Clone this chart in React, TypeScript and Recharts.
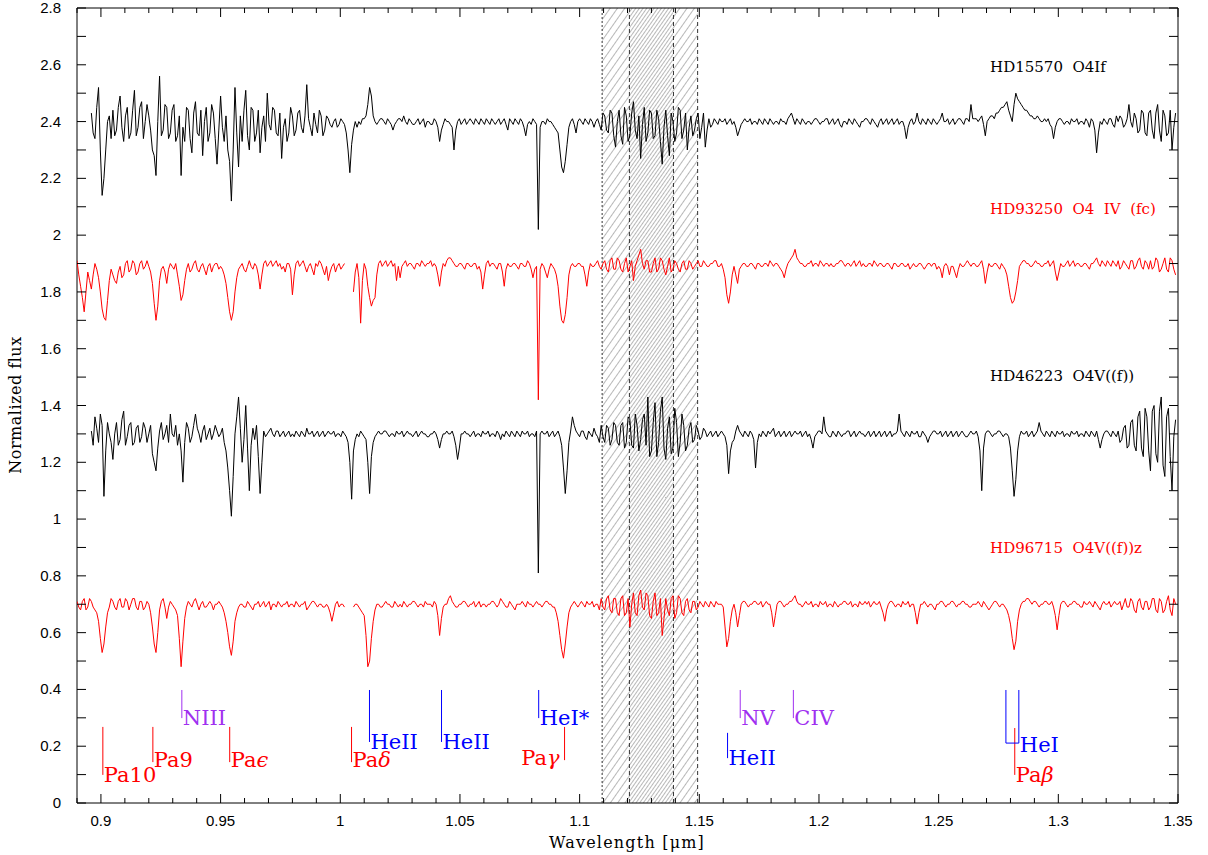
import { LineChart, Line, XAxis, YAxis, ReferenceArea, ReferenceLine, ReferenceDot } from 'recharts';

// spectra are sampled on a common wavelength grid (micron); the *Mid arrays
// hold the samples that fall half a step after each main sample
const waveStart = 0.89;
const waveStep = 0.0015;

const hd15570 = [
  null, null, null, null, 2.43, 2.34, 2.52, 2.14, 2.30, 2.42,
  2.44, 2.37, 2.49, 2.33, 2.45, 2.36, 2.51, 2.38, 2.47, 2.40,
  2.42, 2.30, 2.21, 2.56, 2.37, 2.45, 2.36, 2.46, 2.35, 2.21,
  2.33, 2.44, 2.29, 2.47, 2.35, 2.28, 2.45, 2.36, 2.43, 2.25,
  2.49, 2.33, 2.30, 2.12, 2.52, 2.24, 2.33, 2.51, 2.30, 2.44,
  2.36, 2.29, 2.42, 2.50, 2.37, 2.44, 2.35, 2.27, 2.41, 2.36,
  2.42, 2.37, 2.44, 2.36, 2.53, 2.38, 2.43, 2.36, 2.42, 2.37,
  2.41, 2.38, 2.41, 2.39, 2.40, 2.36, 2.22, 2.37, 2.38, 2.39,
  2.41, 2.46, 2.49, 2.40, 2.40, 2.41, 2.39, 2.40, 2.37, 2.40,
  2.41, 2.42, 2.39, 2.40, 2.39, 2.41, 2.40, 2.38, 2.40, 2.39,
  2.40, 2.33, 2.39, 2.40, 2.39, 2.30, 2.40, 2.39, 2.41, 2.40,
  2.40, 2.41, 2.39, 2.40, 2.41, 2.39, 2.40, 2.40, 2.39, 2.41,
  2.37, 2.40, 2.41, 2.39, 2.40, 2.35, 2.40, 2.41, 2.39, 2.38,
  2.40, 2.41, 2.40, 2.38, 2.36, 2.24, 2.26, 2.38, 2.41, 2.36,
  2.41, 2.39, 2.40, 2.41, 2.38, 2.41, 2.37, 2.42, 2.36, 2.43,
  2.31, 2.44, 2.32, 2.42, 2.35, 2.47, 2.34, 2.27, 2.45, 2.36,
  2.43, 2.35, 2.41, 2.25, 2.44, 2.28, 2.40, 2.36, 2.44, 2.37,
  2.30, 2.42, 2.37, 2.43, 2.38, 2.31, 2.41, 2.39, 2.40, 2.41,
  2.40, 2.39, 2.41, 2.40, 2.35, 2.39, 2.41, 2.40, 2.39, 2.40,
  2.41, 2.39, 2.40, 2.41, 2.39, 2.40, 2.41, 2.40, 2.41, 2.43,
  2.39, 2.40, 2.41, 2.39, 2.40, 2.40, 2.41, 2.39, 2.40, 2.41,
  2.40, 2.39, 2.41, 2.38, 2.40, 2.41, 2.39, 2.40, 2.38, 2.40,
  2.41, 2.39, 2.40, 2.38, 2.41, 2.40, 2.39, 2.41, 2.40, 2.39,
  2.40, 2.34, 2.40, 2.39, 2.43, 2.39, 2.40, 2.41, 2.39, 2.40,
  2.40, 2.43, 2.40, 2.39, 2.41, 2.40, 2.41, 2.39, 2.41, 2.46,
  2.41, 2.40, 2.42, 2.35, 2.41, 2.42, 2.43, 2.44, 2.45, 2.47,
  2.42, 2.46, 2.48, 2.46, 2.44, 2.43, 2.42, 2.41, 2.41, 2.40,
  2.40, 2.39, 2.34, 2.40, 2.41, 2.39, 2.40, 2.41, 2.40, 2.39,
  2.40, 2.41, 2.38, 2.40, 2.29, 2.40, 2.41, 2.39, 2.41, 2.38,
  2.40, 2.41, 2.39, 2.46, 2.38, 2.41, 2.37, 2.43, 2.35, 2.44,
  2.34, 2.46, 2.33, 2.42, 2.36, 2.30, 2.43,
];
const hd15570Mid = [
  null, null, null, null, 2.36, 2.45, 2.30, 2.20, 2.40, 2.34,
  2.35, 2.45, 2.38, 2.42, 2.34, 2.44, 2.35, 2.45, 2.34, 2.46,
  2.37, 2.28, 2.40, 2.35, 2.46, 2.34, 2.44, 2.33, 2.42, 2.38,
  2.45, 2.34, 2.43, 2.36, 2.44, 2.40, 2.33, 2.46, 2.34, 2.37,
  2.38, 2.42, 2.26, 2.30, 2.36, 2.42, 2.44, 2.35, 2.45, 2.33,
  2.44, 2.38, 2.33, 2.39, 2.45, 2.36, 2.43, 2.38, 2.33, 2.45,
  2.35, 2.43, 2.38, 2.42, 2.41, 2.35, 2.39, 2.44, 2.35, 2.42,
  2.39, 2.40, 2.38, 2.41, 2.39, 2.30, 2.32, 2.40, 2.40, 2.41,
  2.42, 2.52, 2.42, 2.39, 2.41, 2.40, 2.41, 2.39, 2.39, 2.41,
  2.40, 2.40, 2.41, 2.39, 2.40, 2.39, 2.41, 2.40, 2.39, 2.41,
  2.38, 2.37, 2.41, 2.40, 2.38, 2.37, 2.41, 2.40, 2.39, 2.41,
  2.39, 2.40, 2.41, 2.39, 2.40, 2.41, 2.39, 2.41, 2.40, 2.39,
  2.41, 2.39, 2.40, 2.41, 2.38, 2.39, 2.39, 2.40, 2.02, 2.40,
  2.39, 2.40, 2.39, 2.37, 2.30, 2.22, 2.32, 2.40, 2.39, 2.40,
  2.40, 2.41, 2.39, 2.40, 2.40, 2.39, 2.43, 2.37, 2.44, 2.35,
  2.40, 2.35, 2.45, 2.33, 2.43, 2.37, 2.42, 2.39, 2.33, 2.44,
  2.34, 2.44, 2.33, 2.38, 2.35, 2.43, 2.33, 2.45, 2.34, 2.43,
  2.38, 2.35, 2.41, 2.34, 2.43, 2.37, 2.38, 2.41, 2.39, 2.40,
  2.41, 2.40, 2.39, 2.38, 2.37, 2.40, 2.40, 2.41, 2.40, 2.39,
  2.40, 2.41, 2.39, 2.40, 2.40, 2.39, 2.40, 2.39, 2.42, 2.41,
  2.41, 2.39, 2.40, 2.40, 2.39, 2.41, 2.40, 2.40, 2.41, 2.39,
  2.41, 2.40, 2.39, 2.40, 2.39, 2.40, 2.41, 2.39, 2.40, 2.41,
  2.40, 2.41, 2.39, 2.40, 2.39, 2.41, 2.40, 2.39, 2.41, 2.40,
  2.38, 2.38, 2.41, 2.40, 2.40, 2.41, 2.39, 2.40, 2.41, 2.39,
  2.41, 2.40, 2.41, 2.40, 2.39, 2.41, 2.40, 2.41, 2.40, 2.41,
  2.41, 2.41, 2.39, 2.40, 2.42, 2.41, 2.43, 2.45, 2.46, 2.44,
  2.40, 2.50, 2.47, 2.45, 2.44, 2.42, 2.41, 2.42, 2.40, 2.41,
  2.41, 2.38, 2.38, 2.41, 2.40, 2.40, 2.39, 2.40, 2.41, 2.40,
  2.39, 2.40, 2.41, 2.37, 2.36, 2.39, 2.40, 2.41, 2.39, 2.42,
  2.42, 2.38, 2.41, 2.40, 2.43, 2.36, 2.44, 2.36, 2.43, 2.37,
  2.43, 2.37, 2.44, 2.35, 2.44, 2.38, null,
];

const hd93250 = [
  1.91, 1.82, 1.73, 1.87, 1.81, 1.90, 1.85, 1.74, 1.70, 1.84,
  1.86, 1.83, 1.89, 1.86, 1.91, 1.88, 1.90, 1.87, 1.91, 1.89,
  1.89, 1.83, 1.70, 1.84, 1.89, 1.83, 1.90, 1.88, 1.86, 1.77,
  1.84, 1.90, 1.88, 1.91, 1.87, 1.90, 1.86, 1.90, 1.89, 1.90,
  1.89, 1.86, 1.78, 1.70, 1.80, 1.88, 1.90, 1.87, 1.91, 1.88,
  1.89, 1.81, 1.90, 1.89, 1.91, 1.90, 1.89, 1.88, 1.87, 1.90,
  1.79, 1.90, 1.89, 1.91, 1.87, 1.90, 1.86, 1.89, 1.90, 1.86,
  1.84, 1.89, 1.87, 1.90, 1.89, null, null, 1.80, 1.90, 1.69,
  1.90, 1.82, 1.75, 1.78, 1.90, 1.89, 1.91, 1.90, 1.89, 1.84,
  1.85, 1.90, 1.89, 1.90, 1.88, 1.90, 1.91, 1.89, 1.90, 1.89,
  1.89, 1.82, 1.90, 1.91, 1.92, 1.90, 1.89, 1.90, 1.88, 1.90,
  1.89, 1.90, 1.89, 1.81, 1.90, 1.89, 1.90, 1.88, 1.90, 1.82,
  1.90, 1.89, 1.90, 1.88, 1.90, 1.89, 1.90, 1.85, 1.89, 1.88,
  1.89, 1.85, 1.90, 1.88, 1.82, 1.70, 1.72, 1.86, 1.90, 1.89,
  1.90, 1.89, 1.82, 1.90, 1.89, 1.91, 1.88, 1.91, 1.87, 1.92,
  1.88, 1.91, 1.87, 1.92, 1.89, 1.84, 1.91, 1.95, 1.88, 1.91,
  1.87, 1.92, 1.88, 1.91, 1.86, 1.92, 1.88, 1.90, 1.87, 1.91,
  1.88, 1.90, 1.89, 1.91, 1.89, 1.90, 1.89, 1.90, 1.91, 1.89,
  1.88, 1.79, 1.80, 1.89, 1.83, 1.89, 1.90, 1.89, 1.90, 1.88,
  1.90, 1.89, 1.90, 1.91, 1.89, 1.90, 1.88, 1.85, 1.90, 1.92,
  1.95, 1.91, 1.90, 1.89, 1.90, 1.89, 1.90, 1.91, 1.89, 1.90,
  1.90, 1.89, 1.90, 1.91, 1.89, 1.90, 1.90, 1.89, 1.91, 1.90,
  1.89, 1.90, 1.91, 1.89, 1.90, 1.89, 1.90, 1.88, 1.90, 1.89,
  1.90, 1.89, 1.88, 1.90, 1.89, 1.90, 1.88, 1.90, 1.89, 1.90,
  1.89, 1.85, 1.90, 1.86, 1.89, 1.85, 1.90, 1.89, 1.91, 1.89,
  1.90, 1.89, 1.91, 1.83, 1.90, 1.89, 1.90, 1.88, 1.89, 1.86,
  1.78, 1.77, 1.84, 1.90, 1.91, 1.90, 1.89, 1.91, 1.90, 1.89,
  1.90, 1.89, 1.91, 1.84, 1.90, 1.89, 1.91, 1.90, 1.89, 1.90,
  1.89, 1.90, 1.88, 1.90, 1.92, 1.89, 1.90, 1.91, 1.89, 1.90,
  1.91, 1.89, 1.90, 1.88, 1.91, 1.89, 1.92, 1.88, 1.90, 1.91,
  1.89, 1.91, 1.88, 1.92, 1.87, 1.91, 1.86,
];
const hd93250Mid = [
  1.86, 1.78, 1.80, 1.84, 1.86, 1.88, 1.80, 1.71, 1.77, 1.88,
  1.84, 1.87, 1.85, 1.90, 1.87, 1.91, 1.86, 1.90, 1.88, 1.91,
  1.87, 1.76, 1.75, 1.88, 1.87, 1.88, 1.89, 1.90, 1.82, 1.79,
  1.88, 1.87, 1.90, 1.88, 1.89, 1.88, 1.89, 1.87, 1.90, 1.88,
  1.88, 1.83, 1.73, 1.73, 1.85, 1.89, 1.88, 1.89, 1.89, 1.90,
  1.86, 1.86, 1.91, 1.90, 1.89, 1.91, 1.90, 1.89, 1.90, 1.88,
  1.86, 1.91, 1.90, 1.89, 1.89, 1.88, 1.90, 1.91, 1.88, 1.89,
  1.87, 1.90, 1.89, 1.88, 1.90, null, null, 1.87, 1.85, 1.84,
  1.88, 1.78, 1.77, 1.86, 1.91, 1.90, 1.89, 1.91, 1.90, 1.89,
  1.89, 1.91, 1.90, 1.89, 1.90, 1.89, 1.90, 1.90, 1.91, 1.90,
  1.86, 1.87, 1.89, 1.92, 1.91, 1.89, 1.90, 1.89, 1.90, 1.89,
  1.90, 1.88, 1.87, 1.86, 1.91, 1.90, 1.89, 1.90, 1.87, 1.88,
  1.89, 1.90, 1.89, 1.90, 1.89, 1.91, 1.88, 1.88, 1.42, 1.90,
  1.87, 1.88, 1.89, 1.86, 1.75, 1.69, 1.78, 1.89, 1.89, 1.90,
  1.89, 1.86, 1.87, 1.89, 1.90, 1.89, 1.90, 1.88, 1.91, 1.88,
  1.92, 1.88, 1.90, 1.87, 1.91, 1.89, 1.93, 1.90, 1.91, 1.87,
  1.90, 1.87, 1.92, 1.88, 1.89, 1.87, 1.91, 1.88, 1.90, 1.88,
  1.91, 1.88, 1.90, 1.89, 1.91, 1.89, 1.90, 1.91, 1.89, 1.90,
  1.85, 1.76, 1.86, 1.86, 1.88, 1.90, 1.89, 1.90, 1.89, 1.90,
  1.89, 1.90, 1.89, 1.90, 1.90, 1.89, 1.87, 1.88, 1.91, 1.93,
  1.92, 1.90, 1.89, 1.90, 1.91, 1.90, 1.89, 1.90, 1.90, 1.89,
  1.89, 1.90, 1.91, 1.90, 1.90, 1.89, 1.91, 1.90, 1.89, 1.89,
  1.90, 1.89, 1.90, 1.90, 1.89, 1.90, 1.89, 1.90, 1.89, 1.90,
  1.89, 1.90, 1.89, 1.89, 1.90, 1.89, 1.89, 1.90, 1.90, 1.88,
  1.88, 1.89, 1.89, 1.89, 1.87, 1.88, 1.89, 1.90, 1.90, 1.90,
  1.89, 1.90, 1.88, 1.87, 1.89, 1.90, 1.89, 1.90, 1.88, 1.82,
  1.76, 1.80, 1.89, 1.91, 1.90, 1.89, 1.90, 1.90, 1.89, 1.90,
  1.91, 1.90, 1.87, 1.87, 1.89, 1.90, 1.89, 1.91, 1.90, 1.89,
  1.90, 1.89, 1.90, 1.91, 1.90, 1.91, 1.89, 1.90, 1.91, 1.89,
  1.88, 1.91, 1.89, 1.91, 1.88, 1.91, 1.89, 1.91, 1.88, 1.88,
  1.92, 1.87, 1.90, 1.88, 1.92, 1.88, null,
];

const hd46223 = [
  null, null, null, null, 1.31, 1.36, 1.27, 1.33, 1.24, 1.30,
  1.21, 1.34, 1.28, 1.38, 1.29, 1.34, 1.27, 1.33, 1.29, 1.32,
  1.30, 1.23, 1.17, 1.31, 1.28, 1.33, 1.37, 1.29, 1.26, 1.24,
  1.27, 1.32, 1.29, 1.37, 1.30, 1.31, 1.28, 1.32, 1.30, 1.31,
  1.30, 1.27, 1.18, 1.01, 1.30, 1.43, 1.20, 1.40, 1.10, 1.32,
  1.33, 1.09, 1.31, 1.30, 1.32, 1.29, 1.31, 1.30, 1.29, 1.31,
  1.30, 1.31, 1.29, 1.30, 1.32, 1.30, 1.29, 1.31, 1.30, 1.29,
  1.31, 1.30, 1.29, 1.30, 1.31, 1.29, 1.20, 1.24, 1.30, 1.31,
  1.29, 1.20, 1.22, 1.29, 1.31, 1.30, 1.31, 1.29, 1.30, 1.31,
  1.30, 1.29, 1.31, 1.30, 1.30, 1.29, 1.31, 1.30, 1.29, 1.30,
  1.30, 1.25, 1.30, 1.31, 1.30, 1.29, 1.21, 1.30, 1.31, 1.30,
  1.30, 1.29, 1.30, 1.31, 1.30, 1.29, 1.30, 1.31, 1.28, 1.29,
  1.30, 1.31, 1.29, 1.30, 1.31, 1.30, 1.29, 1.30, 1.31, 1.30,
  1.30, 1.31, 1.30, 1.29, 1.31, 1.26, 1.09, 1.27, 1.36, 1.31,
  1.29, 1.31, 1.28, 1.30, 1.32, 1.29, 1.33, 1.27, 1.32, 1.28,
  1.33, 1.26, 1.34, 1.27, 1.35, 1.25, 1.33, 1.28, 1.37, 1.43,
  1.24, 1.41, 1.27, 1.43, 1.21, 1.36, 1.25, 1.34, 1.27, 1.33,
  1.26, 1.34, 1.28, 1.31, 1.29, 1.31, 1.30, 1.29, 1.31, 1.30,
  1.30, 1.26, 1.24, 1.28, 1.33, 1.30, 1.31, 1.29, 1.30, 1.18,
  1.30, 1.31, 1.29, 1.30, 1.32, 1.30, 1.29, 1.31, 1.30, 1.29,
  1.31, 1.30, 1.29, 1.31, 1.30, 1.25, 1.30, 1.31, 1.36, 1.30,
  1.29, 1.30, 1.31, 1.29, 1.30, 1.31, 1.30, 1.29, 1.31, 1.30,
  1.30, 1.29, 1.31, 1.30, 1.29, 1.31, 1.30, 1.29, 1.30, 1.37,
  1.30, 1.31, 1.29, 1.30, 1.31, 1.29, 1.30, 1.27, 1.30, 1.31,
  1.30, 1.29, 1.31, 1.30, 1.29, 1.31, 1.30, 1.30, 1.29, 1.31,
  1.30, 1.29, 1.10, 1.30, 1.31, 1.29, 1.30, 1.31, 1.29, 1.30,
  1.25, 1.08, 1.24, 1.31, 1.30, 1.29, 1.31, 1.30, 1.34, 1.30,
  1.31, 1.29, 1.30, 1.31, 1.30, 1.29, 1.30, 1.31, 1.30, 1.29,
  1.30, 1.31, 1.29, 1.30, 1.31, 1.25, 1.30, 1.31, 1.29, 1.30,
  1.31, 1.28, 1.33, 1.26, 1.35, 1.24, 1.38, 1.22, 1.36, 1.17,
  1.40, 1.20, 1.43, 1.15, 1.39, 1.10, 1.35,
];
const hd46223Mid = [
  null, null, null, null, 1.26, 1.32, 1.37, 1.08, 1.34, 1.27,
  1.30, 1.26, 1.35, 1.26, 1.33, 1.26, 1.32, 1.27, 1.34, 1.27,
  1.33, 1.20, 1.25, 1.34, 1.30, 1.27, 1.30, 1.33, 1.30, 1.13,
  1.34, 1.27, 1.33, 1.32, 1.27, 1.33, 1.30, 1.28, 1.33, 1.29,
  1.32, 1.24, 1.10, 1.15, 1.36, 1.32, 1.28, 1.25, 1.26, 1.28,
  1.22, 1.20, 1.29, 1.31, 1.30, 1.31, 1.29, 1.31, 1.30, 1.29,
  1.29, 1.30, 1.31, 1.29, 1.30, 1.31, 1.30, 1.29, 1.31, 1.30,
  1.30, 1.31, 1.30, 1.29, 1.30, 1.27, 1.07, 1.28, 1.29, 1.30,
  1.28, 1.09, 1.27, 1.30, 1.30, 1.31, 1.30, 1.30, 1.29, 1.30,
  1.31, 1.30, 1.30, 1.29, 1.31, 1.30, 1.30, 1.29, 1.30, 1.31,
  1.28, 1.28, 1.30, 1.30, 1.31, 1.26, 1.25, 1.30, 1.30, 1.29,
  1.31, 1.30, 1.29, 1.30, 1.31, 1.30, 1.29, 1.30, 1.30, 1.31,
  1.29, 1.30, 1.31, 1.29, 1.30, 1.31, 1.30, 1.29, 0.81, 1.31,
  1.30, 1.29, 1.31, 1.30, 1.29, 1.18, 1.17, 1.31, 1.33, 1.30,
  1.31, 1.29, 1.31, 1.29, 1.30, 1.27, 1.29, 1.33, 1.26, 1.34,
  1.27, 1.33, 1.25, 1.36, 1.26, 1.37, 1.24, 1.35, 1.26, 1.22,
  1.34, 1.22, 1.38, 1.25, 1.32, 1.23, 1.39, 1.22, 1.37, 1.24,
  1.32, 1.27, 1.33, 1.28, 1.32, 1.29, 1.31, 1.30, 1.29, 1.31,
  1.29, 1.16, 1.27, 1.31, 1.31, 1.29, 1.30, 1.31, 1.28, 1.27,
  1.29, 1.30, 1.31, 1.31, 1.29, 1.31, 1.30, 1.29, 1.31, 1.30,
  1.30, 1.31, 1.30, 1.29, 1.28, 1.29, 1.31, 1.30, 1.31, 1.29,
  1.31, 1.29, 1.30, 1.30, 1.31, 1.29, 1.31, 1.30, 1.30, 1.29,
  1.31, 1.30, 1.29, 1.31, 1.30, 1.29, 1.31, 1.30, 1.31, 1.31,
  1.29, 1.30, 1.31, 1.30, 1.29, 1.31, 1.29, 1.29, 1.31, 1.30,
  1.31, 1.30, 1.29, 1.31, 1.30, 1.29, 1.31, 1.29, 1.30, 1.30,
  1.31, 1.24, 1.25, 1.31, 1.30, 1.30, 1.31, 1.30, 1.30, 1.29,
  1.17, 1.14, 1.29, 1.30, 1.31, 1.30, 1.29, 1.31, 1.31, 1.29,
  1.30, 1.31, 1.29, 1.30, 1.31, 1.30, 1.29, 1.30, 1.31, 1.30,
  1.29, 1.30, 1.31, 1.29, 1.28, 1.28, 1.31, 1.30, 1.31, 1.29,
  1.27, 1.32, 1.25, 1.34, 1.26, 1.36, 1.25, 1.39, 1.24, 1.38,
  1.23, 1.38, 1.19, 1.36, 1.22, 1.29, null,
];

const hd96715 = [
  0.71, 0.68, 0.72, 0.69, 0.71, 0.68, 0.64, 0.53, 0.62, 0.69,
  0.71, 0.68, 0.72, 0.69, 0.71, 0.70, 0.72, 0.68, 0.71, 0.69,
  0.70, 0.62, 0.53, 0.68, 0.72, 0.65, 0.71, 0.69, 0.66, 0.48,
  0.65, 0.71, 0.69, 0.72, 0.68, 0.71, 0.69, 0.71, 0.68, 0.70,
  0.70, 0.67, 0.60, 0.52, 0.64, 0.69, 0.70, 0.69, 0.70, 0.68,
  0.70, 0.69, 0.71, 0.70, 0.68, 0.70, 0.71, 0.69, 0.70, 0.69,
  0.70, 0.71, 0.69, 0.70, 0.68, 0.70, 0.71, 0.69, 0.70, 0.69,
  0.69, 0.64, 0.70, 0.69, 0.70, null, null, 0.69, 0.70, 0.68,
  0.66, 0.48, 0.58, 0.68, 0.70, 0.69, 0.71, 0.70, 0.69, 0.70,
  0.70, 0.71, 0.69, 0.70, 0.71, 0.69, 0.70, 0.71, 0.70, 0.69,
  0.70, 0.59, 0.69, 0.70, 0.73, 0.70, 0.69, 0.70, 0.71, 0.69,
  0.70, 0.69, 0.71, 0.70, 0.69, 0.70, 0.71, 0.69, 0.72, 0.70,
  0.69, 0.70, 0.68, 0.70, 0.71, 0.69, 0.70, 0.69, 0.71, 0.70,
  0.70, 0.71, 0.70, 0.69, 0.64, 0.54, 0.56, 0.67, 0.70, 0.70,
  0.70, 0.70, 0.71, 0.70, 0.69, 0.70, 0.72, 0.68, 0.73, 0.67,
  0.72, 0.66, 0.73, 0.67, 0.62, 0.74, 0.66, 0.75, 0.68, 0.73,
  0.65, 0.74, 0.67, 0.59, 0.72, 0.66, 0.73, 0.67, 0.72, 0.66,
  0.72, 0.67, 0.71, 0.69, 0.70, 0.71, 0.69, 0.70, 0.71, 0.70,
  0.69, 0.55, 0.64, 0.70, 0.62, 0.70, 0.71, 0.69, 0.70, 0.71,
  0.70, 0.69, 0.71, 0.70, 0.62, 0.70, 0.71, 0.69, 0.70, 0.71,
  0.73, 0.70, 0.69, 0.71, 0.70, 0.69, 0.70, 0.71, 0.70, 0.69,
  0.70, 0.71, 0.69, 0.70, 0.71, 0.70, 0.69, 0.70, 0.71, 0.70,
  0.70, 0.69, 0.71, 0.70, 0.69, 0.64, 0.70, 0.71, 0.69, 0.70,
  0.71, 0.70, 0.69, 0.70, 0.63, 0.70, 0.71, 0.69, 0.70, 0.68,
  0.70, 0.71, 0.69, 0.70, 0.71, 0.69, 0.70, 0.71, 0.70, 0.69,
  0.70, 0.71, 0.69, 0.70, 0.68, 0.70, 0.71, 0.69, 0.70, 0.68,
  0.63, 0.54, 0.64, 0.70, 0.71, 0.72, 0.70, 0.71, 0.69, 0.70,
  0.71, 0.70, 0.69, 0.61, 0.70, 0.71, 0.69, 0.70, 0.71, 0.70,
  0.69, 0.70, 0.71, 0.69, 0.70, 0.68, 0.71, 0.70, 0.69, 0.71,
  0.70, 0.68, 0.72, 0.69, 0.71, 0.67, 0.72, 0.68, 0.71, 0.69,
  0.72, 0.67, 0.71, 0.68, 0.73, 0.66, 0.70,
];
const hd96715Mid = [
  0.69, 0.71, 0.68, 0.72, 0.69, 0.67, 0.58, 0.56, 0.67, 0.72,
  0.69, 0.71, 0.69, 0.72, 0.68, 0.72, 0.69, 0.71, 0.68, 0.71,
  0.67, 0.56, 0.60, 0.71, 0.69, 0.69, 0.70, 0.68, 0.58, 0.57,
  0.69, 0.70, 0.71, 0.70, 0.70, 0.69, 0.70, 0.70, 0.70, 0.71,
  0.69, 0.64, 0.55, 0.57, 0.67, 0.70, 0.69, 0.71, 0.69, 0.70,
  0.71, 0.70, 0.69, 0.71, 0.70, 0.69, 0.70, 0.70, 0.71, 0.70,
  0.69, 0.70, 0.70, 0.71, 0.69, 0.71, 0.70, 0.70, 0.69, 0.70,
  0.67, 0.67, 0.71, 0.70, 0.69, null, null, 0.70, 0.69, 0.67,
  0.59, 0.50, 0.64, 0.70, 0.69, 0.70, 0.70, 0.69, 0.71, 0.69,
  0.69, 0.70, 0.70, 0.71, 0.70, 0.70, 0.69, 0.70, 0.70, 0.71,
  0.66, 0.65, 0.70, 0.72, 0.71, 0.69, 0.70, 0.71, 0.70, 0.70,
  0.71, 0.70, 0.69, 0.70, 0.70, 0.71, 0.70, 0.70, 0.71, 0.69,
  0.71, 0.69, 0.70, 0.70, 0.70, 0.71, 0.70, 0.70, 0.70, 0.69,
  0.71, 0.70, 0.69, 0.67, 0.59, 0.51, 0.62, 0.69, 0.71, 0.69,
  0.71, 0.69, 0.70, 0.71, 0.70, 0.68, 0.69, 0.72, 0.68, 0.72,
  0.67, 0.72, 0.66, 0.72, 0.70, 0.67, 0.73, 0.69, 0.74, 0.66,
  0.71, 0.66, 0.72, 0.65, 0.68, 0.72, 0.65, 0.73, 0.67, 0.71,
  0.68, 0.71, 0.68, 0.71, 0.69, 0.70, 0.71, 0.69, 0.70, 0.70,
  0.62, 0.58, 0.68, 0.67, 0.66, 0.71, 0.70, 0.70, 0.71, 0.70,
  0.71, 0.70, 0.70, 0.67, 0.66, 0.71, 0.70, 0.70, 0.71, 0.72,
  0.71, 0.70, 0.70, 0.70, 0.71, 0.70, 0.69, 0.70, 0.71, 0.70,
  0.69, 0.70, 0.70, 0.71, 0.70, 0.71, 0.70, 0.69, 0.70, 0.71,
  0.71, 0.70, 0.70, 0.71, 0.67, 0.68, 0.71, 0.70, 0.70, 0.69,
  0.70, 0.71, 0.70, 0.67, 0.67, 0.70, 0.70, 0.70, 0.69, 0.70,
  0.71, 0.70, 0.70, 0.71, 0.70, 0.70, 0.71, 0.70, 0.69, 0.70,
  0.70, 0.70, 0.71, 0.69, 0.69, 0.71, 0.70, 0.70, 0.69, 0.66,
  0.58, 0.57, 0.68, 0.71, 0.72, 0.71, 0.71, 0.70, 0.70, 0.71,
  0.70, 0.71, 0.66, 0.66, 0.71, 0.70, 0.70, 0.71, 0.70, 0.69,
  0.71, 0.70, 0.70, 0.71, 0.69, 0.70, 0.70, 0.71, 0.70, 0.70,
  0.71, 0.70, 0.69, 0.72, 0.68, 0.71, 0.69, 0.71, 0.68, 0.72,
  0.68, 0.72, 0.67, 0.71, 0.68, 0.72, null,
];

// star labels: words are separated by a wide (double) gap
const starNames = [
  ['HD15570', 'O4If'],
  ['HD93250', 'O4', 'IV', '(fc)'],
  ['HD46223', 'O4V((f))'],
  ['HD96715', 'O4V((f))z'],
];
const starNameWave = 1.2715;
const starNameFlux = [2.574, 2.074, 1.486, 0.88];

// line identifications
const lineNames = ['Pa10', 'Pa9', 'NIII', 'Paϵ', 'Paδ', 'HeII', 'HeII', 'HeI*', 'Paγ', 'HeII', 'NV', 'CIV', 'HeI', 'Paβ'];
const lineKinds = ['H', 'H', 'M', 'H', 'H', 'He', 'He', 'He', 'H', 'He', 'M', 'M', 'He', 'H'];
const lineWaves = [0.9008, 0.9217, 0.9338, 0.9538, 1.0047, 1.0122, 1.0423, 1.0829, 1.0937, 1.1618, 1.1671, 1.1893, 1.2835, 1.2818];
const lineTops = [0.268, 0.268, 0.398, 0.268, 0.268, 0.398, 0.398, 0.398, 0.268, 0.247, 0.398, 0.398, 0.398, 0.264];
const lineBottoms = [0.099, 0.144, 0.299, 0.144, 0.144, 0.215, 0.215, 0.299, 0.151, 0.158, 0.299, 0.299, 0.211, 0.099];
const labelFlux = [0.074, 0.127, 0.275, 0.127, 0.127, 0.19, 0.19, 0.275, 0.134, 0.134, 0.275, 0.275, 0.18, 0.074];
const heIPairWave = 1.2781;

// telluric region
const bandA = [1.1094, 1.1392];
const bandB = [1.1208, 1.1493];

const xTicks = [
  0.89, 0.9, 0.91, 0.92, 0.93, 0.94, 0.95, 0.96, 0.97, 0.98, 0.99, 1, 1.01, 1.02, 1.03, 1.04,
  1.05, 1.06, 1.07, 1.08, 1.09, 1.1, 1.11, 1.12, 1.13, 1.14, 1.15, 1.16, 1.17, 1.18, 1.19, 1.2,
  1.21, 1.22, 1.23, 1.24, 1.25, 1.26, 1.27, 1.28, 1.29, 1.3, 1.31, 1.32, 1.33, 1.34, 1.35,
];
const xMajor = [0.9, 0.95, 1, 1.05, 1.1, 1.15, 1.2, 1.25, 1.3, 1.35];
const xMajorText = ['0.9', '0.95', '1', '1.05', '1.1', '1.15', '1.2', '1.25', '1.3', '1.35'];
const yTicks = [
  0, 0.1, 0.2, 0.3, 0.4, 0.5, 0.6, 0.7, 0.8, 0.9, 1, 1.1, 1.2, 1.3, 1.4, 1.5, 1.6, 1.7, 1.8, 1.9,
  2, 2.1, 2.2, 2.3, 2.4, 2.5, 2.6, 2.7, 2.8,
];
const yMajor = [0, 0.2, 0.4, 0.6, 0.8, 1, 1.2, 1.4, 1.6, 1.8, 2, 2.2, 2.4, 2.6, 2.8];
const yMajorText = ['0', '0.2', '0.4', '0.6', '0.8', '1', '1.2', '1.4', '1.6', '1.8', '2', '2.2', '2.4', '2.6', '2.8'];

const W = 1208;
const H = 855;
const PLOT_LEFT = 77;
const PLOT_RIGHT = 1178;
const PLOT_TOP = 8;
const PLOT_BOTTOM = 803;

const kindColor: Record<string, string> = { H: '#ff0000', He: '#0000ff', M: '#a030f0' };
const serif = '"DejaVu Serif", serif';
const sans = '"Liberation Sans", Arial, sans-serif';
const GAP = '\u00a0\u00a0';

const toPoints = (flux: (number | null)[], mid: (number | null)[]) =>
  flux.flatMap((f, i) => [
    { w: waveStart + i * waveStep, f },
    { w: waveStart + (i + 0.5) * waveStep, f: mid[i] },
  ]);

const spectra = [
  { key: 'hd15570', data: toPoints(hd15570, hd15570Mid), color: '#000000' },
  { key: 'hd93250', data: toPoints(hd93250, hd93250Mid), color: '#ff0000' },
  { key: 'hd46223', data: toPoints(hd46223, hd46223Mid), color: '#000000' },
  { key: 'hd96715', data: toPoints(hd96715, hd96715Mid), color: '#ff0000' },
];

const near = (arr: number[], v: number) => arr.findIndex((m) => Math.abs(m - v) < 1e-6);

function XTick(props: any) {
  const { x, payload } = props;
  const idx = near(xMajor, payload.value);
  const len = idx >= 0 ? 9 : 5;
  return (
    <g>
      <line x1={x} x2={x} y1={PLOT_BOTTOM} y2={PLOT_BOTTOM - len} stroke="#000" />
      <line x1={x} x2={x} y1={PLOT_TOP} y2={PLOT_TOP + len} stroke="#000" />
      {idx >= 0 && (
        <text x={x} y={826} textAnchor="middle" fontFamily={sans} fontSize={15} fill="#000">
          {xMajorText[idx]}
        </text>
      )}
    </g>
  );
}

function YTick(props: any) {
  const { y, payload } = props;
  const idx = near(yMajor, payload.value);
  return (
    <g>
      <line x1={PLOT_LEFT} x2={PLOT_LEFT + 9} y1={y} y2={y} stroke="#000" />
      <line x1={PLOT_RIGHT} x2={PLOT_RIGHT - 9} y1={y} y2={y} stroke="#000" />
      {idx >= 0 && (
        <text x={61} y={y + 5} textAnchor="end" fontFamily={sans} fontSize={15} fill="#000">
          {yMajorText[idx]}
        </text>
      )}
    </g>
  );
}

function lineText(name: string, color: string, anchorEnd: boolean) {
  return (p: any) => {
    const last = name[name.length - 1];
    const greek = last.charCodeAt(0) > 0x370;
    return (
      <text
        x={anchorEnd ? p.cx - 5 : p.cx + 1}
        y={p.cy}
        textAnchor={anchorEnd ? 'end' : 'start'}
        fontFamily={serif}
        fontSize={21}
        fill={color}
      >
        {greek ? name.slice(0, -1) : name}
        {greek && <tspan fontStyle="italic">{last}</tspan>}
      </text>
    );
  };
}

function nameText(words: string[], color: string) {
  return (p: any) => (
    <text x={p.cx} y={p.cy} fontFamily={serif} fontSize={15} fill={color}>
      {words.join(GAP)}
    </text>
  );
}

export default function App() {
  return (
    <div style={{ position: 'absolute', left: 0, top: 0, width: W, height: H, background: '#fff' }}>
      <LineChart width={W} height={H} margin={{ top: PLOT_TOP, right: W - PLOT_RIGHT, bottom: 0, left: 0 }}>
        <defs>
          <pattern id="hatchA" patternUnits="userSpaceOnUse" width={6} height={6} patternTransform="rotate(35)">
            <line x1={0} y1={0} x2={0} y2={6} stroke="#333" strokeWidth={0.7} />
          </pattern>
          <pattern id="hatchB" patternUnits="userSpaceOnUse" width={6} height={6} patternTransform="rotate(35) translate(3,0)">
            <line x1={0} y1={0} x2={0} y2={6} stroke="#333" strokeWidth={0.7} />
          </pattern>
        </defs>
        <XAxis
          type="number"
          dataKey="w"
          domain={[0.89, 1.35]}
          ticks={xTicks}
          interval={0}
          tick={XTick}
          tickLine={false}
          axisLine={false}
          height={H - PLOT_BOTTOM}
          allowDataOverflow
        />
        <YAxis
          type="number"
          domain={[0, 2.8]}
          ticks={yTicks}
          interval={0}
          tick={YTick}
          tickLine={false}
          axisLine={false}
          width={PLOT_LEFT}
          allowDataOverflow
        />
        <ReferenceArea x1={bandA[0]} x2={bandA[1]} y1={0} y2={2.8} fill="url(#hatchA)" fillOpacity={1} stroke="none" />
        <ReferenceArea x1={bandB[0]} x2={bandB[1]} y1={0} y2={2.8} fill="url(#hatchB)" fillOpacity={1} stroke="none" />
        <ReferenceLine x={bandA[0]} stroke="#333" strokeDasharray="2 2" />
        <ReferenceLine x={bandA[1]} stroke="#333" strokeDasharray="4 3" />
        <ReferenceLine x={bandB[0]} stroke="#333" strokeDasharray="4 3" />
        <ReferenceLine x={bandB[1]} stroke="#333" strokeDasharray="4 3" />
        {spectra.map((s) => (
          <Line
            key={s.key}
            data={s.data}
            dataKey="f"
            type="linear"
            stroke={s.color}
            strokeWidth={1}
            dot={false}
            activeDot={false}
            connectNulls={false}
            isAnimationActive={false}
          />
        ))}
        {lineWaves.map((w, i) => (
          <ReferenceLine
            key={'l' + i}
            segment={[{ x: w, y: lineTops[i] }, { x: w, y: lineBottoms[i] }]}
            stroke={kindColor[lineKinds[i]]}
          />
        ))}
        <ReferenceLine segment={[{ x: heIPairWave, y: 0.398 }, { x: heIPairWave, y: 0.211 }]} stroke="#0000ff" />
        <ReferenceLine segment={[{ x: heIPairWave, y: 0.211 }, { x: lineWaves[12], y: 0.211 }]} stroke="#0000ff" />
        {lineWaves.map((w, i) => (
          <ReferenceDot
            key={'t' + i}
            x={w}
            y={labelFlux[i]}
            r={0}
            shape={lineText(lineNames[i], kindColor[lineKinds[i]], lineNames[i] === 'Paγ')}
          />
        ))}
        {starNames.map((n, i) => (
          <ReferenceDot
            key={'n' + i}
            x={starNameWave}
            y={starNameFlux[i]}
            r={0}
            shape={nameText(n, i % 2 === 0 ? '#000' : '#ff0000')}
          />
        ))}
        <ReferenceArea x1={0.89} x2={1.35} y1={0} y2={2.8} fill="none" stroke="#000" strokeWidth={1} />
        <text x={627} y={848} textAnchor="middle" fontFamily={serif} fontSize={16} letterSpacing={1.2} fill="#000">
          Wavelength [μm]
        </text>
        <text
          x={21}
          y={405}
          textAnchor="middle"
          fontFamily={serif}
          fontSize={16}
          letterSpacing={0.5}
          fill="#000"
          transform="rotate(-90 21 405)"
        >
          Normalized flux
        </text>
      </LineChart>
    </div>
  );
}
